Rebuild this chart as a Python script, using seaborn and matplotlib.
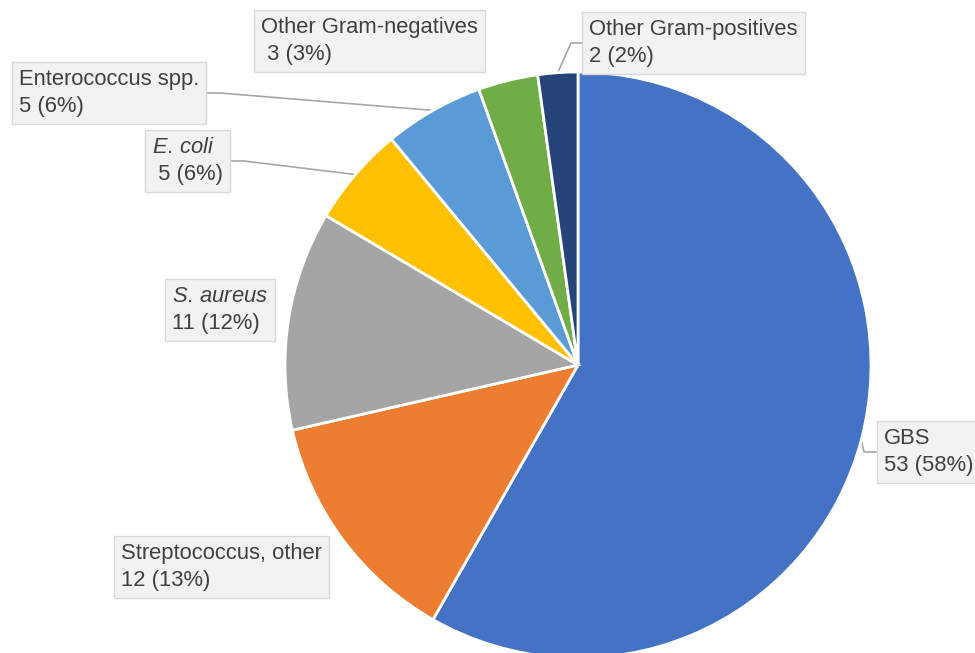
import numpy as np
import matplotlib.pyplot as plt
import seaborn as sns

# data
categories = ["GBS", "Streptococcus, other", r"$\it{S.\,aureus}$", r"$\it{E.\,coli}$",
              "Enterococcus spp.", "Other Gram-negatives", "Other Gram-positives"]
counts = [53, 12, 11, 5, 5, 3, 2]
percents = [58, 13, 12, 6, 6, 3, 2]
colors = ["#4472C4", "#ED7D31", "#A5A5A5", "#FFC000", "#5B9BD5", "#70AD47", "#264478"]
count_prefix = ["", "", "", " ", "", " ", ""]

# layout (image pixel coords: left x of text, vertical centre of label block)
label_pos = [(884, 452), (121, 567), (172, 310), (152, 161), (19, 93), (261, 41), (589, 43)]
# leader lines: side of box the line leaves from (None = no leader)
leader_side = ["left", None, None, "right", "right", None, "left"]
box_edge_x = [877, None, None, 231, 207, None, 584]

W, H = 975, 653
cx, cy, r = 578, 365, 293

sns.set_theme(style="white")
plt.rcParams["font.family"] = ["Liberation Sans", "DejaVu Sans"]
plt.rcParams["mathtext.fontset"] = "custom"
plt.rcParams["mathtext.it"] = "Liberation Sans:italic"
plt.rcParams["mathtext.rm"] = "Liberation Sans"

fig = plt.figure(figsize=(W / 100, H / 100), dpi=100)
ax = fig.add_axes([0, 0, 1, 1])

ax.pie(counts, colors=colors, startangle=90, counterclock=False,
       center=(cx, H - cy), radius=r,
       wedgeprops=dict(edgecolor="white", linewidth=2))
ax.set_xlim(0, W)
ax.set_ylim(0, H)
ax.set_aspect("equal")
ax.axis("off")

total = sum(counts)
cum = np.cumsum([0] + counts)
for i, name in enumerate(categories):
    txt = f"{name}\n{count_prefix[i]}{counts[i]} ({percents[i]}%)"
    tx, ty = label_pos[i]
    ax.text(tx, H - ty, txt, ha="left", va="center", fontsize=15.8, color="#404040",
            linespacing=1.32,
            bbox=dict(boxstyle="square,pad=0.32", facecolor="#F2F2F2", edgecolor="#D9D9D9", linewidth=1))

    if leader_side[i] is None:
        continue
    # leader starts on the pie edge at the middle of the wedge
    mid = (cum[i] + cum[i + 1]) / 2 / total * 360
    ang = np.deg2rad(90 - mid)
    px, py = cx + r * np.cos(ang), H - cy + r * np.sin(ang)
    bx = box_edge_x[i]
    elbow = bx - 13 if leader_side[i] == "left" else bx + 13
    by = H - ty
    ax.plot([px, elbow, bx], [py, by, by], color="#A6A6A6", lw=1.2, zorder=0.5)

plt.savefig("out.png", dpi=100)
